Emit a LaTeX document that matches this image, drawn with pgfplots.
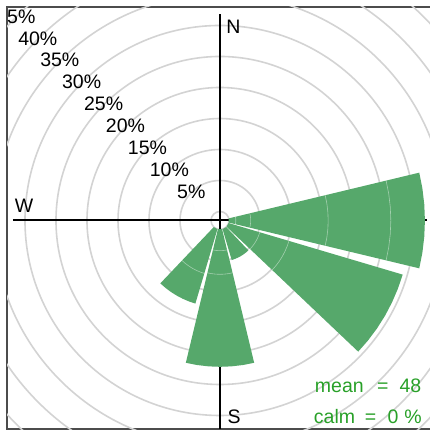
\documentclass[border=0pt]{standalone}
\usepackage{pgfplots}
\pgfplotsset{compat=1.18}
\usepackage{fontspec}
\setmainfont{Liberation Sans}
\definecolor{wedge}{RGB}{86,168,107}
\definecolor{txtgreen}{RGB}{40,160,40}
\definecolor{gridc}{RGB}{211,211,211}
\pgfplotsset{
  wedgestyle/.style={data cs=polar, fill=wedge, draw=none},
  bnd/.style={data cs=polar, white, opacity=0.45, line width=0.6bp},
}
\begin{document}
\begin{tikzpicture}[font=\fontsize{19.5bp}{22bp}\selectfont]
\begin{axis}[
  x=6.2bp, y=6.2bp,
  xmin=-34.35, xmax=34.35, ymin=-33.63, ymax=34.44,
  xtick=\empty, ytick=\empty,
  axis line style={black!70, line width=1.6bp},
  clip=true, no markers,
  every node/.append style={inner sep=0pt},
]
% grid circles (radius = 1.45 offset + percentage)
\draw[gridc, line width=1.6bp] (axis cs:0,0) circle[radius=1.45];
\draw[gridc, line width=1.6bp] (axis cs:0,0) circle[radius=6.45];
\draw[gridc, line width=1.6bp] (axis cs:0,0) circle[radius=11.45];
\draw[gridc, line width=1.6bp] (axis cs:0,0) circle[radius=16.45];
\draw[gridc, line width=1.6bp] (axis cs:0,0) circle[radius=21.45];
\draw[gridc, line width=1.6bp] (axis cs:0,0) circle[radius=26.45];
\draw[gridc, line width=1.6bp] (axis cs:0,0) circle[radius=31.45];
\draw[gridc, line width=1.6bp] (axis cs:0,0) circle[radius=36.45];
\draw[gridc, line width=1.6bp] (axis cs:0,0) circle[radius=41.45];
\draw[gridc, line width=1.6bp] (axis cs:0,0) circle[radius=46.45];
% ring labels
\begin{scope}
\clip (rel axis cs:0,0) rectangle (rel axis cs:1,1);
\node at (axis cs:-4.632,4.632) {5\%};
\node at (axis cs:-8.167,8.167) {10\%};
\node at (axis cs:-11.70,11.70) {15\%};
\node at (axis cs:-15.24,15.24) {20\%};
\node at (axis cs:-18.77,18.77) {25\%};
\node at (axis cs:-22.31,22.31) {30\%};
\node at (axis cs:-25.84,25.84) {35\%};
\node at (axis cs:-29.38,29.38) {40\%};
\node at (axis cs:-32.92,32.92) {45\%};
\end{scope}
% axis cross
\addplot[black, line width=2bp] coordinates {(-33.4,0) (33.4,0)};
\addplot[black, line width=2bp] coordinates {(0,-33.63) (0,33.3)};
% compass labels
\node at (axis cs:2.16,31.21) {N};
\node at (axis cs:-31.6,2.42) {W};
\node at (axis cs:2.26,-31.6) {S};
% wedges (angle, offset+percentage)
% E
\addplot[wedgestyle] coordinates {(-13.5,1.45) (-13.5,33.05) (-9,33.05) (-4.5,33.05) (0,33.05) (4.5,33.05) (9,33.05) (13.5,33.05) (13.5,1.45)} -- cycle;
% ESE
\addplot[wedgestyle] coordinates {(-43.5,1.45) (-43.5,30.73) (-39,30.73) (-34.5,30.73) (-30,30.73) (-25.5,30.73) (-21,30.73) (-16.5,30.73) (-16.5,1.45)} -- cycle;
% SSE
\addplot[wedgestyle] coordinates {(-73.5,1.45) (-73.5,6.65) (-69,6.65) (-64.5,6.65) (-60,6.65) (-55.5,6.65) (-51,6.65) (-46.5,6.65) (-46.5,1.45)} -- cycle;
% S
\addplot[wedgestyle] coordinates {(-103.5,1.45) (-103.5,23.6) (-99,23.6) (-94.5,23.6) (-90,23.6) (-85.5,23.6) (-81,23.6) (-76.5,23.6) (-76.5,1.45)} -- cycle;
% SSW
\addplot[wedgestyle] coordinates {(-133.5,1.45) (-133.5,13.98) (-129,13.98) (-124.5,13.98) (-120,13.98) (-115.5,13.98) (-111,13.98) (-106.5,13.98) (-106.5,1.45)} -- cycle;
% bin boundaries
\addplot[bnd] coordinates {(-13.5,2.55) (-9,2.55) (-4.5,2.55) (0,2.55) (4.5,2.55) (9,2.55) (13.5,2.55)};
\addplot[bnd] coordinates {(-13.5,4.95) (-9,4.95) (-4.5,4.95) (0,4.95) (4.5,4.95) (9,4.95) (13.5,4.95)};
\addplot[bnd] coordinates {(-13.5,17.45) (-9,17.45) (-4.5,17.45) (0,17.45) (4.5,17.45) (9,17.45) (13.5,17.45)};
\addplot[bnd] coordinates {(-13.5,27.55) (-9,27.55) (-4.5,27.55) (0,27.55) (4.5,27.55) (9,27.55) (13.5,27.55)};
\addplot[bnd] coordinates {(-43.5,6.69) (-39,6.69) (-34.5,6.69) (-30,6.69) (-25.5,6.69) (-21,6.69) (-16.5,6.69)};
\addplot[bnd] coordinates {(-43.5,11.6) (-39,11.6) (-34.5,11.6) (-30,11.6) (-25.5,11.6) (-21,11.6) (-16.5,11.6)};
\addplot[bnd] coordinates {(-103.5,4.87) (-99,4.87) (-94.5,4.87) (-90,4.87) (-85.5,4.87) (-81,4.87) (-76.5,4.87)};
\addplot[bnd] coordinates {(-103.5,8.68) (-99,8.68) (-94.5,8.68) (-90,8.68) (-85.5,8.68) (-81,8.68) (-76.5,8.68)};
\addplot[bnd] coordinates {(-133.5,8.9) (-129,8.9) (-124.5,8.9) (-120,8.9) (-115.5,8.9) (-111,8.9) (-106.5,8.9)};
% statistics
\node[anchor=base east, text=txtgreen] at (axis cs:33.03,-27.77) {mean\hspace{13.5bp}=\hspace{11bp}48};
\node[anchor=base east, text=txtgreen] at (axis cs:33.1,-32.66) {calm\hspace{9.8bp}=\hspace{11.2bp}0\hspace{6bp}\%};
\coordinate (bbl) at (axis cs:-35.48,-33.95);
\coordinate (btr) at (axis cs:33.71,35.56);
\end{axis}
\pgfresetboundingbox
\useasboundingbox (bbl) rectangle (btr);
\end{tikzpicture}
\end{document}
